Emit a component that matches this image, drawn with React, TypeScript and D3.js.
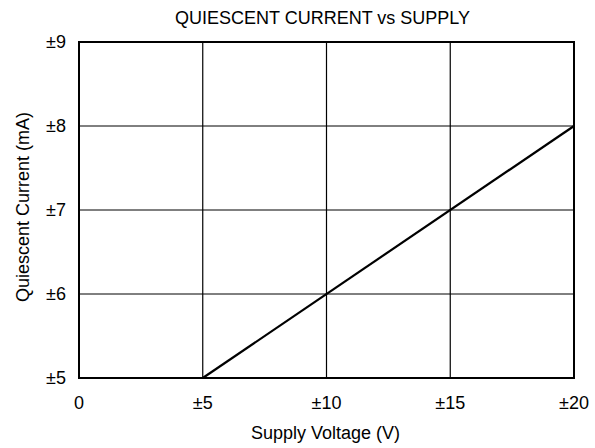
import { useEffect, useRef } from "react";
import * as d3 from "d3";

// supply voltage (±V) vs quiescent current (±mA)
const supplyV = [5, 20];
const currentMA = [5, 8];
const xTicks = [0, 5, 10, 15, 20];
const yTicks = [5, 6, 7, 8, 9];

const W = 595;
const H = 448;
const margin = { top: 42, right: 20, bottom: 70, left: 79 };
const FONT = "'Liberation Sans', Arial, sans-serif";

export default function App() {
  const svgRef = useRef<SVGSVGElement>(null);

  useEffect(() => {
    const svg = d3.select(svgRef.current);
    svg.selectAll("*").remove();

    const x = d3.scaleLinear().domain([0, 20]).range([margin.left, W - margin.right - 1]);
    const y = d3.scaleLinear().domain([5, 9]).range([H - margin.bottom, margin.top]);

    const g = svg.append("g").style("font-family", FONT).style("font-size", "18px");

    // grid
    g.append("g")
      .selectAll("line")
      .data(xTicks.slice(1, -1))
      .join("line")
      .attr("x1", (d) => x(d))
      .attr("x2", (d) => x(d))
      .attr("y1", y(5))
      .attr("y2", y(9))
      .attr("stroke", "#000")
      .attr("stroke-width", 1.2);

    g.append("g")
      .selectAll("line")
      .data(yTicks.slice(1, -1))
      .join("line")
      .attr("x1", x(0))
      .attr("x2", x(20))
      .attr("y1", (d) => y(d))
      .attr("y2", (d) => y(d))
      .attr("stroke", "#000")
      .attr("stroke-width", 1);

    // frame
    g.append("rect")
      .attr("x", x(0))
      .attr("y", y(9))
      .attr("width", x(20) - x(0))
      .attr("height", y(5) - y(9))
      .attr("fill", "none")
      .attr("stroke", "#000")
      .attr("stroke-width", 2);

    // data line
    const line = d3
      .line<number>()
      .x((d) => x(d))
      .y((_, i) => y(currentMA[i]));
    g.append("path")
      .datum(supplyV)
      .attr("d", line)
      .attr("fill", "none")
      .attr("stroke", "#000")
      .attr("stroke-width", 2.2);

    // tick labels
    g.append("g")
      .selectAll("text")
      .data(xTicks)
      .join("text")
      .attr("x", (d) => x(d))
      .attr("y", y(5) + 30.5)
      .attr("text-anchor", "middle")
      .text((d) => (d === 0 ? "0" : `±${d}`));

    g.append("g")
      .selectAll("text")
      .data(yTicks)
      .join("text")
      .attr("x", x(0) - 13)
      .attr("y", (d) => y(d))
      .attr("dy", "0.35em")
      .attr("text-anchor", "end")
      .text((d) => `±${d}`);

    // titles
    g.append("text")
      .attr("x", (x(0) + x(20)) / 2 - 4)
      .attr("y", 23.5)
      .attr("text-anchor", "middle")
      .text("QUIESCENT CURRENT vs SUPPLY");

    g.append("text")
      .attr("x", (x(0) + x(20)) / 2 - 1)
      .attr("y", 438.5)
      .attr("text-anchor", "middle")
      .text("Supply Voltage (V)");

    g.append("text")
      .attr("transform", `translate(29,${(y(5) + y(9)) / 2 - 3}) rotate(-90)`)
      .attr("text-anchor", "middle")
      .text("Quiescent Current (mA)");
  }, []);

  return (
    <svg
      ref={svgRef}
      width={W}
      height={H}
      style={{ position: "absolute", left: 0, top: 0, background: "#fff" }}
    />
  );
}
